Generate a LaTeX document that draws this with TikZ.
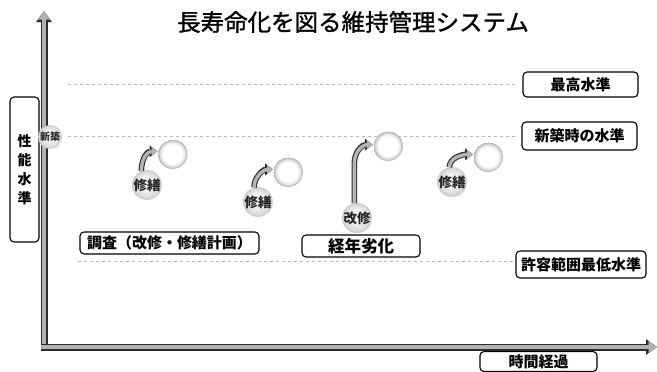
\documentclass[tikz,border=0pt]{standalone}
\usepackage{fontspec}
\setmainfont{Noto Sans CJK JP}
\newfontfamily\titlefont{Noto Sans CJK JP}[FakeBold=1.2]
\usetikzlibrary{arrows.meta}
\pgfdeclareradialshading{ringshade}{\pgfpoint{0bp}{0bp}}{color(0bp)=(white); color(16bp)=(white); color(21bp)=(gray!25); color(24bp)=(gray!60); color(25bp)=(gray!45)}
\pgfdeclareradialshading{ballshade}{\pgfpoint{-3bp}{5bp}}{color(0bp)=(white); color(9bp)=(gray!8); color(21bp)=(gray!28); color(28bp)=(gray!55)}
\begin{document}
\begin{tikzpicture}[x=1pt,y=-1pt,
  lbl/.style={draw=black, line width=1.1pt, rounded corners=4pt, fill=white, inner sep=0pt,
    font=\bfseries\fontsize{15}{15}\selectfont},
  axisline/.style={line width=7pt, draw=gray!35!black, -{Triangle[length=11pt,width=15pt]},
    postaction={draw=gray!60, line width=4.4pt, -{Triangle[length=8.5pt,width=11pt]}}},
  carrow/.style={line width=5.6pt, draw=gray!35!black, -{Triangle[length=8pt,width=11.5pt]},
    postaction={draw=gray!58, line width=3.4pt, -{Triangle[length=6pt,width=8.4pt]}}},
  faint/.style={draw=gray!55, dashed, line width=0.8pt},
  emptyc/.style={circle, shading=ringshade, minimum size=30pt, inner sep=0pt},
  fullc/.style={circle, shading=ballshade, minimum size=29pt, inner sep=0pt,
    font=\bfseries\fontsize{13.5}{13.5}\selectfont, text=black!85},
]
\useasboundingbox (0,0) rectangle (657,372);
\fill[white] (0,0) rectangle (657,372);

% title
\node (title) at (353,22) {\titlefont\fontsize{23.5}{24}\selectfont 長寿命化を図る維持管理システム};

% faint level lines
\coordinate (h1a) at (68,84);  \coordinate (h1b) at (515,84);
\coordinate (h2a) at (68,136); \coordinate (h2b) at (515,136);
\coordinate (h3a) at (78,261); \coordinate (h3b) at (513,261);
\draw[faint] (h1a) -- (h1b);
\draw[faint] (h2a) -- (h2b);
\draw[faint] (h3a) -- (h3b);

% axes
\coordinate (O) at (44,347);
\coordinate (ytop) at (44,11);
\coordinate (xend) at (657,347);
\draw[axisline] ([yshift=-4pt]O) -- (ytop);
\draw[axisline] ([xshift=-3.5pt]O) -- (xend);

% axis labels
\node[lbl, minimum width=29pt, minimum height=145pt, align=center,
  font=\bfseries\fontsize{14}{19}\selectfont] (ylab) at (24.5,169.5) {性\\能\\水\\準};
\node[lbl, minimum width=117pt, minimum height=20pt] (xlab) at (538.5,361.5) {時間経過};

% level labels
\node[lbl, minimum width=115pt, minimum height=25pt] (max) at (580.5,84.5) {最高水準};
\node[lbl, minimum width=115pt, minimum height=28pt] (new) at (579.5,136) {新築時の水準};
\node[lbl, minimum width=130pt, minimum height=27pt] (min) at (581,264.5) {許容範囲最低水準};

% other labels
\node[lbl, minimum width=179pt, minimum height=22pt] (survey) at (169.5,243) {調査（改修・修繕計画）};
\node[lbl, minimum width=118pt, minimum height=22pt, font=\bfseries\fontsize{16.5}{16.5}\selectfont] (aging) at (361,246) {経年劣化};

% new-build circle
\node[fullc, minimum size=24pt, font=\bfseries\fontsize{10}{10}\selectfont] (n0) at (50,137) {新築};

% circles
\node[emptyc] (e1) at (172.5,154) {};
\node[fullc] (r1) at (147,185) {修繕};
\node[emptyc] (e2) at (288,172) {};
\node[fullc] (r2) at (258,202) {修繕};
\node[emptyc] (e3) at (388,146) {};
\node[fullc] (r3) at (357,218) {改修};
\node[emptyc] (e4) at (488,157) {};
\node[fullc] (r4) at (452,182) {修繕};

% curved arrows
\draw[carrow] (r1.112) .. controls +(0,-13) and +(-10,0) .. (e1.170);
\draw[carrow] (r2.105) .. controls +(0,-11) and +(-9,0) .. (e2.170);
\draw[carrow] (r3.100) -- ++(0,-40) .. controls +(0,-12) and +(-10,0) .. (e3.175);
\draw[carrow] (r4.100) .. controls +(0,-10) and +(-9,0) .. (e4.170);
\end{tikzpicture}
\end{document}
